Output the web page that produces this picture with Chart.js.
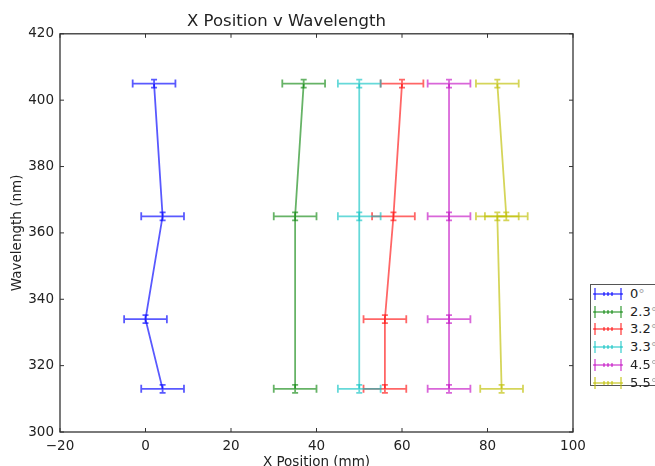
<!DOCTYPE html>
<html>
<head>
<meta charset="utf-8">
<script src="https://cdn.jsdelivr.net/npm/chart.js@4.4.1/dist/chart.umd.min.js"></script>
<style>
  html, body { margin: 0; padding: 0; background: #fff; overflow: hidden; width: 655px; height: 466px; }
  #wrap { position: relative; width: 655px; height: 466px; overflow: hidden; }
  #legend { position: absolute; left: 590px; top: 284px; width: 90px; height: 102px;
            border: 1px solid #555; background: #fff; box-sizing: border-box;
            font-family: "DejaVu Sans", sans-serif; font-size: 13px; color: #222; }
  .row { position: absolute; left: 0; height: 16px; display: flex; align-items: center; white-space: nowrap; }
  .row svg { margin-left: 1px; flex: none; }
  .row span { margin-left: 6px; line-height: 16px; white-space: nowrap; }
  .row span .deg { margin-left: 0; color: #aaa; }
</style>
</head>
<body>
<div id="wrap">
  <canvas id="c" width="655" height="466"></canvas>
  <div id="legend"></div>
</div>
<script>
// ---- data ----
const chartTitle = "X Position v Wavelength";
const xAxisTitle = "X Position (mm)";
const yAxisTitle = "Wavelength (nm)";
const seriesLabels = ["0", "2.3", "3.2", "3.3", "4.5", "5.5"];
const seriesColors = ["rgba(0,0,255,0.65)", "rgba(0,128,0,0.6)", "rgba(255,0,0,0.6)",
                      "rgba(0,191,191,0.6)", "rgba(191,0,191,0.6)", "rgba(191,191,0,0.65)"];

const x0deg   = [2, 4, 0, 4];
const y0deg   = [405, 365, 334, 313];
const x23deg  = [37, 35, 35];
const y23deg  = [405, 365, 313];
const x32deg  = [60, 58, 56, 56];
const y32deg  = [405, 365, 334, 313];
const x33deg  = [50, 50, 50];
const y33deg  = [405, 365, 313];
const x45deg  = [71, 71, 71, 71];
const y45deg  = [405, 365, 334, 313];
const x55deg  = [82.3, 84.4, 82.3, 83.3];
const y55deg  = [405, 365, 365, 313];

const xErr = 5;     // mm
const yErr = 1.2;   // nm

const xTicks = [-20, 0, 20, 40, 60, 80, 100];
const yTicks = [300, 320, 340, 360, 380, 400, 420];

const xs = [x0deg, x23deg, x32deg, x33deg, x45deg, x55deg];
const ys = [y0deg, y23deg, y32deg, y33deg, y45deg, y55deg];

const datasets = seriesLabels.map((lab, i) => ({
  label: lab + "°",
  data: xs[i].map((x, j) => ({ x: x, y: ys[i][j] })),
  borderColor: seriesColors[i],
  backgroundColor: seriesColors[i],
  showLine: true,
  borderWidth: 1.8,
  pointRadius: 0,
  pointHoverRadius: 0,
  tension: 0
}));

const FONT = "DejaVu Sans";

// error bars drawn through the scales
const errorBars = {
  id: "errorBars",
  afterDatasetsDraw(chart) {
    const ctx = chart.ctx, xs_ = chart.scales.x, ys_ = chart.scales.y;
    ctx.save();
    chart.data.datasets.forEach(ds => {
      ctx.strokeStyle = ds.borderColor;
      ctx.lineWidth = 1.8;
      ds.data.forEach(p => {
        const px = xs_.getPixelForValue(p.x), py = ys_.getPixelForValue(p.y);
        const xl = xs_.getPixelForValue(p.x - xErr), xr = xs_.getPixelForValue(p.x + xErr);
        const yt = ys_.getPixelForValue(p.y + yErr), yb = ys_.getPixelForValue(p.y - yErr);
        ctx.beginPath();
        ctx.moveTo(xl, py); ctx.lineTo(xr, py);
        ctx.moveTo(xl, py - 4); ctx.lineTo(xl, py + 4);
        ctx.moveTo(xr, py - 4); ctx.lineTo(xr, py + 4);
        ctx.moveTo(px, yt); ctx.lineTo(px, yb);
        ctx.moveTo(px - 3, yt); ctx.lineTo(px + 3, yt);
        ctx.moveTo(px - 3, yb); ctx.lineTo(px + 3, yb);
        ctx.stroke();
      });
    });
    ctx.restore();
  }
};

// matplotlib-style frame with inward ticks
const frame = {
  id: "frame",
  afterDraw(chart) {
    const ctx = chart.ctx, a = chart.chartArea, sx = chart.scales.x, sy = chart.scales.y;
    ctx.save();
    ctx.strokeStyle = "#333";
    ctx.lineWidth = 1.3;
    ctx.strokeRect(a.left, a.top, a.right - a.left, a.bottom - a.top);
    ctx.lineWidth = 1;
    ctx.beginPath();
    xTicks.forEach(v => {
      const p = sx.getPixelForValue(v);
      ctx.moveTo(p, a.bottom); ctx.lineTo(p, a.bottom - 4);
      ctx.moveTo(p, a.top); ctx.lineTo(p, a.top + 4);
    });
    yTicks.forEach(v => {
      const p = sy.getPixelForValue(v);
      ctx.moveTo(a.left, p); ctx.lineTo(a.left + 4, p);
      ctx.moveTo(a.right, p); ctx.lineTo(a.right - 4, p);
    });
    ctx.stroke();
    ctx.restore();
  }
};

new Chart(document.getElementById("c"), {
  type: "scatter",
  data: { datasets: datasets },
  plugins: [errorBars, frame],
  options: {
    responsive: false,
    devicePixelRatio: 1,
    animation: false,
    layout: { padding: { left: 0, right: 82, top: 0, bottom: 0 } },
    plugins: {
      legend: { display: false },
      tooltip: { enabled: false },
      title: {
        display: true, text: chartTitle, color: "#222",
        font: { family: FONT, size: 16.5, weight: "normal" },
        padding: { top: 12, bottom: 2 }
      }
    },
    scales: {
      x: {
        type: "linear", min: -20, max: 100,
        afterBuildTicks: s => { s.ticks = xTicks.map(v => ({ value: v })); },
        afterFit: s => { s.height = 34; },
        grid: { display: false, drawTicks: false },
        border: { display: false },
        ticks: {
          color: "#222", padding: 6,
          font: { family: FONT, size: 13.5 },
          callback: v => (v < 0 ? "\u2212" + Math.abs(v) : String(v))
        },
        title: {
          display: true, text: xAxisTitle, color: "#222",
          font: { family: FONT, size: 13.5, lineHeight: 0.45 },
          padding: { top: 0, bottom: 0 }
        }
      },
      y: {
        type: "linear", min: 300, max: 420,
        afterBuildTicks: s => { s.ticks = yTicks.map(v => ({ value: v })); },
        afterFit: s => { s.width = 60; },
        grid: { display: false, drawTicks: false },
        border: { display: false },
        ticks: {
          color: "#222", padding: 6,
          font: { family: FONT, size: 13.5 }
        },
        title: {
          display: true, text: yAxisTitle, color: "#222",
          font: { family: FONT, size: 13.5 },
          padding: { top: 9, bottom: 0 }
        }
      }
    }
  }
});

// HTML legend built from the same arrays
const leg = document.getElementById("legend");
seriesLabels.forEach((lab, i) => {
  const row = document.createElement("div");
  row.className = "row";
  row.style.top = (1 + i * 17.7) + "px";
  const c = seriesColors[i];
  row.innerHTML =
    '<svg width="32" height="14" viewBox="0 0 32 14">' +
    '<g stroke="' + c + '" stroke-width="1.6" fill="none">' +
    '<line x1="1" y1="7" x2="31" y2="7"/>' +
    '<line x1="3" y1="1" x2="3" y2="13"/>' +
    '<line x1="29" y1="1" x2="29" y2="13"/>' +
    '<line x1="12" y1="5" x2="12" y2="9"/>' +
    '<line x1="20" y1="5" x2="20" y2="9"/>' +
    '<line x1="16" y1="5" x2="16" y2="9"/>' +
    '</g></svg>' +
    '<span>' + lab + '<span class="deg">°</span></span>';
  leg.appendChild(row);
});
</script>
</body>
</html>
